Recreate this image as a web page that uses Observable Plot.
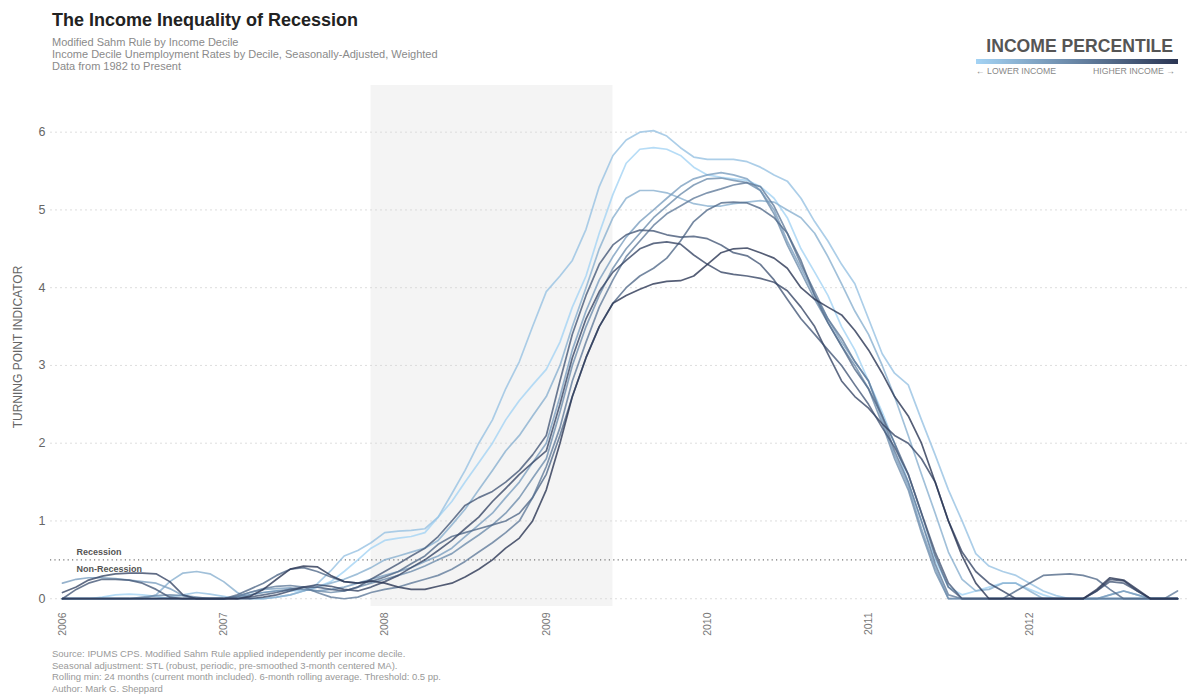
<!DOCTYPE html>
<html><head><meta charset="utf-8">
<script src="https://cdn.jsdelivr.net/npm/d3@7"></script>
<script src="https://cdn.jsdelivr.net/npm/@observablehq/plot@0.6"></script>
<style>
body{margin:0;background:#fff;font-family:"Liberation Sans",Arial,Helvetica,sans-serif;width:1200px;height:698px;overflow:hidden;position:relative}
#title{position:absolute;left:52px;top:10px;font-size:18px;font-weight:bold;color:#222}
#sub{position:absolute;left:52px;top:36px;font-size:11px;line-height:12px;color:#8a8a8a}
#legTitle{position:absolute;right:27px;top:36px;font-size:17.6px;font-weight:bold;color:#555}
#legBar{position:absolute;left:976px;top:59px;width:202px;height:5px}
#legL{position:absolute;left:976px;top:66px;font-size:8.7px;color:#888}
#legR{position:absolute;right:25px;top:66px;font-size:8.7px;color:#888}
#chart{position:absolute;left:0;top:80px}
#ylab{position:absolute;left:18px;top:347px;transform:translate(-50%,-50%) rotate(-90deg);font-size:12px;color:#666;white-space:nowrap}
#cap{position:absolute;left:52px;top:648px;font-size:9.5px;line-height:11.5px;color:#999}
</style>
</head>
<body>
<div id="title">The Income Inequality of Recession</div>
<div id="sub">Modified Sahm Rule by Income Decile<br>Income Decile Unemployment Rates by Decile, Seasonally-Adjusted, Weighted<br>Data from 1982 to Present</div>
<div id="legTitle">INCOME PERCENTILE</div>
<div id="legBar"></div>
<div id="legL">&larr; LOWER INCOME</div>
<div id="legR">HIGHER INCOME &rarr;</div>
<div id="chart"></div>
<div id="ylab">TURNING POINT INDICATOR</div>
<div id="cap">Source: IPUMS CPS. Modified Sahm Rule applied independently per income decile.<br>Seasonal adjustment: STL (robust, periodic, pre-smoothed 3-month centered MA).<br>Rolling min: 24 months (current month included). 6-month rolling average. Threshold: 0.5 pp.<br>Author: Mark G. Sheppard</div>
<script>
// Monthly, Jan 2006 .. Dec 2012 (84 months)
const startYear = 2006, startMonth = 0, nMonths = 84;
const deciles = [1,2,3,4,5,6,7,8,9,10];
const yTicks = [0,1,2,3,4,5,6];
const yearTicks = [2006,2007,2008,2009,2010,2011,2012];
const threshold = 0.5;
const recession = ["2007-12-01", "2009-06-01"];
const lowColor = "#a4d3f4", highColor = "#2b3654";

const d1 = [0,0,0,0.02,0.05,0.06,0.05,0.03,0,0,0,0,
 0,0.02,0.05,0.08,0.1,0.1,0.1,0.15,0.22,0.35,0.5,0.65,
 0.75,0.78,0.8,0.85,1.05,1.25,1.5,1.75,2.0,2.3,2.55,2.75,
 2.95,3.3,3.75,4.15,4.7,5.2,5.6,5.78,5.8,5.78,5.7,5.55,
 5.45,5.42,5.4,5.38,5.3,5.15,4.9,4.5,4.2,3.9,3.5,3.2,
 2.8,2.4,2.0,1.5,1.0,0.5,0.15,0.05,0.1,0.15,0.2,0.2,
 0.12,0.05,0,0,0,0,0,0,0,0,0,0];
const d2 = [0,0,0,0,0,0,0,0,0.02,0.05,0.08,0.06,
 0.03,0,0,0,0.02,0.05,0.1,0.19,0.36,0.55,0.62,0.72,
 0.85,0.87,0.88,0.9,1.05,1.35,1.65,2.0,2.3,2.7,3.05,3.5,
 3.95,4.15,4.35,4.75,5.3,5.7,5.9,6.0,6.02,5.95,5.8,5.68,
 5.65,5.65,5.65,5.62,5.55,5.45,5.37,5.15,4.85,4.6,4.3,4.05,
 3.6,3.15,2.9,2.75,2.3,1.85,1.4,1.0,0.58,0.42,0.35,0.3,
 0.2,0.1,0.04,0,0,0,0,0,0,0,0,0];
const d3 = [0,0,0,0,0,0,0,0.05,0.22,0.33,0.35,0.32,
 0.22,0.08,0,0,0.02,0.05,0.1,0.15,0.2,0.25,0.32,0.4,
 0.5,0.55,0.6,0.65,0.75,0.95,1.15,1.4,1.65,1.9,2.1,2.35,
 2.6,3.0,3.5,4.0,4.5,4.9,5.15,5.25,5.25,5.22,5.15,5.08,
 5.05,5.05,5.08,5.1,5.12,5.1,5.0,4.9,4.7,4.4,4.05,3.7,
 3.4,3.0,2.6,2.1,1.6,1.1,0.6,0.25,0.1,0.12,0.2,0.2,
 0.1,0,0,0,0,0,0.05,0.1,0.05,0,0,0];
const d4 = [0.2,0.25,0.27,0.27,0.26,0.24,0.22,0.2,0.13,0.04,0,0,
 0,0.03,0.08,0.12,0.13,0.14,0.12,0.1,0.12,0.15,0.2,0.25,
 0.3,0.35,0.4,0.48,0.55,0.65,0.8,0.95,1.1,1.3,1.5,1.75,
 2.0,2.6,3.2,3.7,4.1,4.4,4.65,4.85,5.0,5.15,5.3,5.4,
 5.45,5.48,5.45,5.4,5.25,5.0,4.6,4.25,3.9,3.6,3.3,3.05,
 2.8,2.3,1.85,1.45,0.9,0.4,0,0,0,0,0,0,
 0,0,0,0,0,0,0.05,0.1,0.05,0,0,0];
const d5 = [0,0,0,0,0,0,0.02,0.04,0.05,0.04,0.02,0,
 0,0.02,0.05,0.08,0.1,0.12,0.12,0.1,0.08,0.1,0.15,0.2,
 0.25,0.3,0.35,0.42,0.5,0.58,0.7,0.82,0.95,1.1,1.3,1.55,
 1.8,2.4,3.0,3.5,3.9,4.25,4.5,4.7,4.9,5.05,5.2,5.32,
 5.4,5.41,5.38,5.35,5.25,4.95,4.55,4.2,3.85,3.55,3.25,3.0,
 2.7,2.25,1.8,1.4,0.85,0.35,0,0,0,0,0,0,
 0,0,0,0,0,0,0,0,0,0,0,0];
const d6 = [0,0,0,0,0,0,0,0,0,0,0,0,
 0,0.03,0.08,0.13,0.16,0.17,0.15,0.08,0.02,0,0.02,0.08,
 0.12,0.15,0.2,0.25,0.3,0.38,0.48,0.6,0.72,0.85,1.0,1.3,
 1.7,2.2,2.8,3.3,3.75,4.1,4.4,4.6,4.8,4.95,5.05,5.15,
 5.22,5.27,5.32,5.35,5.3,5.05,4.7,4.3,3.95,3.6,3.35,3.05,
 2.8,2.35,1.9,1.5,1.0,0.45,0.05,0,0,0,0,0,
 0,0,0,0,0,0,0,0,0,0,0,0.1];
const d7 = [0,0,0,0,0,0,0,0,0,0,0,0,
 0,0.05,0.12,0.2,0.3,0.38,0.4,0.35,0.28,0.22,0.2,0.22,
 0.28,0.35,0.45,0.55,0.7,0.8,0.85,0.9,0.95,1.0,1.1,1.3,
 1.6,2.1,2.6,3.1,3.5,3.8,4.0,4.15,4.25,4.38,4.6,4.85,
 5.0,5.09,5.1,5.09,5.02,4.9,4.7,4.35,3.9,3.55,3.25,2.95,
 2.7,2.35,2.0,1.6,1.1,0.55,0.15,0,0,0,0,0.1,
 0.2,0.3,0.31,0.32,0.3,0.25,0.12,0,0,0,0,0];
const d8 = [0,0.12,0.2,0.25,0.25,0.24,0.2,0.12,0.02,0,0,0,
 0,0,0.02,0.05,0.08,0.12,0.15,0.15,0.12,0.1,0.15,0.25,
 0.35,0.45,0.55,0.65,0.8,1.0,1.2,1.3,1.38,1.5,1.65,1.85,
 2.1,2.8,3.4,3.9,4.3,4.55,4.68,4.74,4.73,4.68,4.65,4.66,
 4.63,4.55,4.45,4.41,4.3,4.1,3.85,3.6,3.4,3.2,3.0,2.75,
 2.5,2.2,1.95,1.6,1.1,0.6,0.2,0,0,0,0,0,
 0,0,0,0,0,0.1,0.22,0.2,0.1,0,0,0];
const d9 = [0.08,0.15,0.24,0.29,0.32,0.33,0.33,0.32,0.22,0.05,0,0,
 0,0,0,0.02,0.05,0.1,0.15,0.18,0.16,0.12,0.1,0.15,
 0.22,0.3,0.4,0.5,0.62,0.75,0.9,1.05,1.25,1.42,1.6,1.75,
 1.9,2.5,3.1,3.6,3.95,4.2,4.35,4.5,4.57,4.59,4.56,4.42,
 4.3,4.2,4.17,4.15,4.12,4.07,3.96,3.75,3.5,3.15,2.8,2.6,
 2.45,2.25,2.1,2.0,1.8,1.5,1.0,0.6,0.35,0.2,0.1,0,
 0,0,0,0,0,0.1,0.25,0.23,0.1,0,0,0];
const d10 = [0,0,0,0,0,0,0,0,0,0,0,0,
 0,0,0.03,0.12,0.25,0.38,0.42,0.41,0.3,0.22,0.2,0.23,
 0.2,0.15,0.12,0.12,0.16,0.2,0.28,0.38,0.5,0.65,0.78,1.0,
 1.4,2.0,2.6,3.1,3.5,3.8,3.9,3.98,4.05,4.08,4.09,4.15,
 4.3,4.45,4.5,4.51,4.45,4.38,4.25,4.0,3.85,3.75,3.65,3.45,
 3.2,2.9,2.6,2.35,2.0,1.5,1.0,0.55,0.2,0,0,0,
 0,0,0,0,0,0.12,0.27,0.24,0.12,0,0,0];
const series = [d1,d2,d3,d4,d5,d6,d7,d8,d9,d10];

const month = i => new Date(Date.UTC(startYear, startMonth + i, 1));
const rows = [];
series.forEach((vals, k) => vals.forEach((v, i) => rows.push({date: month(i), value: v, decile: deciles[k]})));

const recRow = [{x1: new Date(recession[0] + "T00:00:00Z"), x2: new Date(recession[1] + "T00:00:00Z")}];
const yDomain = [-0.1, 6.6];
const xTicks = yearTicks.map(y => new Date(Date.UTC(y, 0, 1)));

document.getElementById("legBar").style.background = `linear-gradient(to right, ${lowColor}, ${highColor})`;

const chart = Plot.plot({
  width: 1200, height: 565,
  marginLeft: 62, marginRight: 23, marginTop: 5, marginBottom: 39,
  style: {fontFamily: "Liberation Sans, Arial, sans-serif", color: "#666", background: "transparent"},
  x: {type: "utc", domain: [month(0), month(nMonths - 1)]},
  y: {domain: yDomain},
  color: {type: "linear", domain: [1, 10], range: [lowColor, highColor], interpolate: "rgb"},
  marks: [
    Plot.rect(recRow, {x1: "x1", x2: "x2", y1: yDomain[0], y2: yDomain[1], fill: "#f4f4f4"}),
    Plot.ruleY(yTicks, {stroke: "#d6d6d6", strokeDasharray: "2,3", strokeWidth: 0.8, insetLeft: -12, insetRight: -12}),
    Plot.ruleY([threshold], {stroke: "#777", strokeDasharray: "1.2,3.2", strokeWidth: 1.1, insetLeft: -12, insetRight: -12}),
    Plot.text(["Recession"], {x: month(0), y: threshold, text: d => d, dx: 14, dy: -8, textAnchor: "start", fontWeight: "bold", fontSize: 9, fill: "#555"}),
    Plot.text(["Non-Recession"], {x: month(0), y: threshold, text: d => d, dx: 14, dy: 9, textAnchor: "start", fontWeight: "bold", fontSize: 9, fill: "#555"}),
    Plot.line(rows, {x: "date", y: "value", z: "decile", stroke: "decile", strokeWidth: 1.7, strokeOpacity: 0.8, curve: "linear"}),
    Plot.axisX(xTicks, {tickFormat: d => String(d.getUTCFullYear()), tickRotate: -90, tickSize: 0, tickPadding: 6, fontSize: 10.5, fill: "#777", label: null}),
    Plot.axisY(yTicks, {tickFormat: d => String(d), tickSize: 0, tickPadding: 17, fontSize: 12.5, fill: "#666", label: null})
  ]
});
document.getElementById("chart").appendChild(chart);
</script>
</body></html>
